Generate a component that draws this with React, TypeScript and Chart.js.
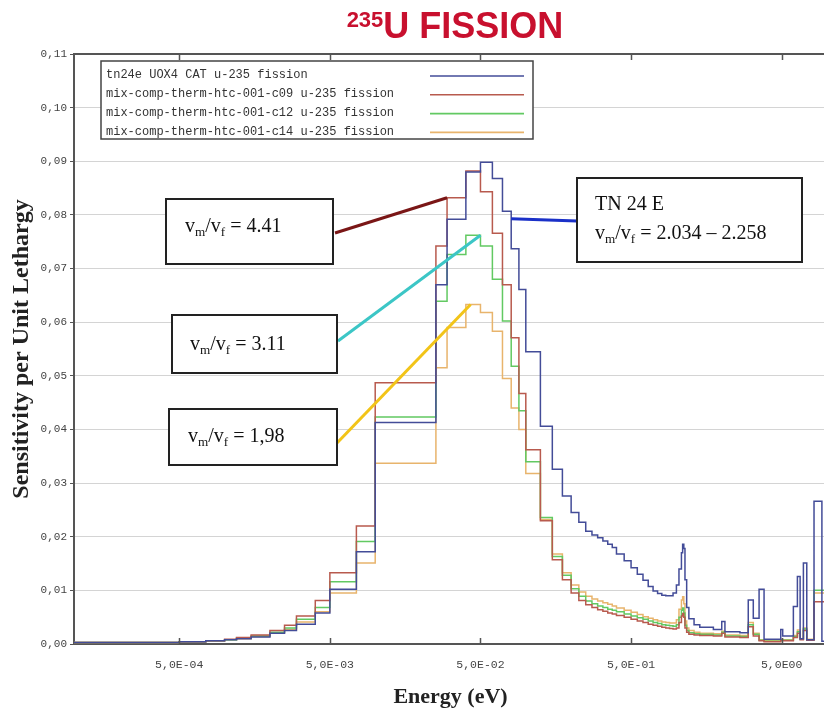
import React, { useEffect, useRef } from "react";
import { Chart, registerables } from "chart.js";
Chart.register(...registerables);

// ---------------- DATA ----------------
// Energy group boundaries (eV); each series value belongs to the group [edge i, edge i+1)
const ENERGY_EDGES = [
  1e-4, 5e-4, 7.5e-4, 1e-3, 1.2e-3, 1.5e-3, 2e-3, 2.5e-3, 3e-3, 4e-3,
  5e-3, 7.5e-3, 1e-2, 2.53e-2, 3e-2, 4e-2, 5e-2, 6e-2, 7e-2, 8e-2,
  9e-2, 0.1, 0.125, 0.15, 0.175, 0.2, 0.225, 0.25, 0.275, 0.3,
  0.325, 0.35, 0.375, 0.4, 0.45, 0.5, 0.55, 0.6, 0.65, 0.7,
  0.75, 0.8, 0.85, 0.9, 0.95, 1.0, 1.04, 1.08, 1.1, 1.12,
  1.14, 1.17, 1.21, 1.31, 1.43, 1.76, 2.0, 2.1, 2.64, 3.0,
  3.24, 3.54, 3.82, 4.93, 5.08, 5.98, 6.36, 6.63, 6.97, 7.34,
  8.2, 9.25, 10,
];

const TN24E_UOX4 = [
  0.0003, 0.0004, 0.0006, 0.0008, 0.001, 0.0013, 0.002, 0.0025, 0.0037, 0.0058,
  0.0102, 0.0172, 0.0413, 0.067, 0.0792, 0.088, 0.0898, 0.0868, 0.0807, 0.0737,
  0.0661, 0.0545, 0.0406, 0.0326, 0.0276, 0.0245, 0.0227, 0.021, 0.0203, 0.0198,
  0.0192, 0.0186, 0.018, 0.0168, 0.0155, 0.0142, 0.013, 0.0119, 0.0107, 0.0099,
  0.0094, 0.0091, 0.009, 0.009, 0.0095, 0.011, 0.014, 0.017, 0.0186, 0.0178,
  0.012, 0.0068, 0.0047, 0.0036, 0.0031, 0.0027, 0.0042, 0.0023, 0.0021, 0.0082,
  0.0048, 0.0102, 0.0009, 0.0027, 0.0015, 0.007, 0.0126, 0.001, 0.0151, 0.0008,
  0.0266, 0.0005,
];

const MIX_C09 = [
  0.0003, 0.0004, 0.0006, 0.0009, 0.0012, 0.0017, 0.0025, 0.0035, 0.0052, 0.0081,
  0.0133, 0.022, 0.0487, 0.0742, 0.0832, 0.0882, 0.0843, 0.0766, 0.067, 0.0571,
  0.0467, 0.0362, 0.023, 0.0157, 0.012, 0.0095, 0.0081, 0.0073, 0.0068, 0.0064,
  0.0061, 0.0058, 0.0056, 0.0053, 0.005, 0.0046, 0.0043, 0.004, 0.0037, 0.0035,
  0.0033, 0.0031, 0.003, 0.0029, 0.0028, 0.003, 0.004, 0.0052, 0.0057, 0.005,
  0.003, 0.0022, 0.0018, 0.0017, 0.0016, 0.0015, 0.002, 0.0013, 0.0012, 0.0032,
  0.0015, 0.0006, 0.0004, 0.0007, 0.0006, 0.0012, 0.002, 0.0008, 0.0025, 0.0007,
  0.0079, 0.0079,
];

const MIX_C12 = [
  0.0003, 0.0004, 0.0006, 0.0008, 0.0011, 0.0015, 0.0022, 0.003, 0.0046, 0.0068,
  0.0116, 0.0191, 0.0423, 0.0639, 0.0726, 0.0762, 0.0742, 0.068, 0.0602, 0.0518,
  0.0435, 0.034, 0.0236, 0.0163, 0.0128, 0.0103, 0.0089, 0.008, 0.0075, 0.0071,
  0.0068, 0.0065, 0.0063, 0.006, 0.0056, 0.0052, 0.0049, 0.0046, 0.0043, 0.004,
  0.0038, 0.0036, 0.0035, 0.0034, 0.0033, 0.0036, 0.005, 0.0063, 0.0067, 0.0058,
  0.0035, 0.0025, 0.0021, 0.0019, 0.0018, 0.0017, 0.0022, 0.0015, 0.0014, 0.0036,
  0.0018, 0.0007, 0.0005, 0.0008, 0.0007, 0.0014, 0.0023, 0.0009, 0.0028, 0.0008,
  0.01, 0.01,
];

const MIX_C14 = [
  0.0003, 0.0004, 0.0006, 0.0008, 0.001, 0.0014, 0.0021, 0.0027, 0.0041, 0.006,
  0.0095, 0.0151, 0.0337, 0.0515, 0.059, 0.0633, 0.0618, 0.0583, 0.0495, 0.044,
  0.04, 0.0318, 0.0232, 0.0168, 0.0133, 0.011, 0.0097, 0.0089, 0.0084, 0.008,
  0.0077, 0.0074, 0.0071, 0.0067, 0.0063, 0.0059, 0.0055, 0.0051, 0.0048, 0.0045,
  0.0043, 0.0041, 0.004, 0.0039, 0.0039, 0.0045, 0.0065, 0.0082, 0.0088, 0.0075,
  0.0043, 0.003, 0.0025, 0.0022, 0.002, 0.0019, 0.0024, 0.0017, 0.0016, 0.004,
  0.002, 0.0008, 0.0006, 0.0009, 0.0008, 0.0016, 0.0026, 0.001, 0.003, 0.0009,
  0.0095, 0.0095,
];

const SERIES_LABELS = [
  "tn24e UOX4 CAT u-235 fission",
  "mix-comp-therm-htc-001-c09 u-235 fission",
  "mix-comp-therm-htc-001-c12 u-235 fission",
  "mix-comp-therm-htc-001-c14 u-235 fission",
];
const SERIES_VALUES = [TN24E_UOX4, MIX_C09, MIX_C12, MIX_C14];

const X_TICKS = [5e-4, 5e-3, 5e-2, 5e-1, 5];
const X_TICK_LABELS = ["5,0E-04", "5,0E-03", "5,0E-02", "5,0E-01", "5,0E00"];
const Y_TICKS = [0, 0.01, 0.02, 0.03, 0.04, 0.05, 0.06, 0.07, 0.08, 0.09, 0.1, 0.11];
const Y_TICK_LABELS = ["0,00", "0,01", "0,02", "0,03", "0,04", "0,05", "0,06", "0,07", "0,08", "0,09", "0,10", "0,11"];

// annotation texts and the data point each callout points to
const NOTE_TEXTS = [
  [[{ t: "v" }, { t: "m", sub: true }, { t: "/v" }, { t: "f", sub: true }, { t: " = 4.41" }]],
  [[{ t: "v" }, { t: "m", sub: true }, { t: "/v" }, { t: "f", sub: true }, { t: " = 3.11" }]],
  [[{ t: "v" }, { t: "m", sub: true }, { t: "/v" }, { t: "f", sub: true }, { t: " = 1,98" }]],
  [[{ t: "TN 24 E" }], [{ t: "v" }, { t: "m", sub: true }, { t: "/v" }, { t: "f", sub: true }, { t: " = 2.034 \u2013 2.258" }]],
];
const NOTE_TARGET_E = [0.03, 0.05, 0.043, 0.08];
const NOTE_TARGET_V = [0.0832, 0.0762, 0.0633, 0.0793];

// ---------------- STYLE / LAYOUT ----------------
const SERIES_COLORS = ["#434c98", "#b85a4e", "#62c962", "#e8b46c"];
const NOTE_LINE_COLORS = ["#7a1616", "#3cc6c6", "#f2c418", "#1a30c8"];
const NOTE_BOXES = [
  { x: 166, y: 199, w: 167, h: 65, tx: 185, ty: [232], ax: 335, ay: 233 },
  { x: 172, y: 315, w: 165, h: 58, tx: 190, ty: [350], ax: 338, ay: 341 },
  { x: 169, y: 409, w: 168, h: 56, tx: 188, ty: [442], ax: 337, ay: 443 },
  { x: 577, y: 178, w: 225, h: 84, tx: 595, ty: [210, 239], ax: 577, ay: 221 },
];
const MONO = '"Liberation Mono", "DejaVu Sans Mono", monospace';
const SERIF = '"Liberation Serif", "DejaVu Serif", serif';
const SANS = '"Liberation Sans", Arial, sans-serif';

function drawRich(ctx: CanvasRenderingContext2D, x: number, y: number, parts: any[], size: number) {
  let cx = x;
  for (const p of parts) {
    const fs = p.sub ? size * 0.66 : size;
    ctx.font = `${fs}px ${SERIF}`;
    ctx.fillText(p.t, cx, y + (p.sub ? size * 0.22 : 0));
    cx += ctx.measureText(p.t).width;
  }
}

const overlayPlugin = {
  id: "overlay",
  afterDatasetsDraw(chart: any) {
    const ctx: CanvasRenderingContext2D = chart.ctx;
    const ca = chart.chartArea;
    const xs = chart.scales.x;
    ctx.save();
    // top border and inward ticks
    ctx.strokeStyle = "#555";
    ctx.lineWidth = 2;
    ctx.beginPath();
    ctx.moveTo(ca.left, ca.top);
    ctx.lineTo(ca.right, ca.top);
    ctx.stroke();
    ctx.lineWidth = 1.5;
    for (const v of X_TICKS) {
      const px = Math.round(xs.getPixelForValue(v)) + 0.5;
      ctx.beginPath();
      ctx.moveTo(px, ca.top);
      ctx.lineTo(px, ca.top + 6);
      ctx.moveTo(px, ca.bottom);
      ctx.lineTo(px, ca.bottom - 6);
      ctx.stroke();
    }

    // legend
    ctx.fillStyle = "#fff";
    ctx.fillRect(101, 61, 432, 78);
    ctx.strokeStyle = "#444";
    ctx.lineWidth = 1.5;
    ctx.strokeRect(101, 61, 432, 78);
    ctx.font = `12px ${MONO}`;
    ctx.textBaseline = "middle";
    ctx.textAlign = "left";
    SERIES_LABELS.forEach((lab, i) => {
      const y = 75 + i * 18.8;
      ctx.fillStyle = "#333";
      ctx.fillText(lab, 106, y);
      ctx.strokeStyle = SERIES_COLORS[i];
      ctx.lineWidth = 1.6;
      ctx.beginPath();
      ctx.moveTo(430, y + 1);
      ctx.lineTo(524, y + 1);
      ctx.stroke();
    });

    // callouts
    ctx.textBaseline = "alphabetic";
    NOTE_BOXES.forEach((b, i) => {
      const tx = xs.getPixelForValue(NOTE_TARGET_E[i]);
      const ty = chart.scales.y.getPixelForValue(NOTE_TARGET_V[i]);
      ctx.strokeStyle = NOTE_LINE_COLORS[i];
      ctx.lineWidth = 3;
      ctx.beginPath();
      ctx.moveTo(b.ax, b.ay);
      ctx.lineTo(tx, ty);
      ctx.stroke();
      ctx.fillStyle = "#fff";
      ctx.fillRect(b.x, b.y, b.w, b.h);
      ctx.strokeStyle = "#222";
      ctx.lineWidth = 2;
      ctx.strokeRect(b.x, b.y, b.w, b.h);
      ctx.fillStyle = "#111";
      NOTE_TEXTS[i].forEach((line, j) => drawRich(ctx, b.tx, b.ty[j], line, 20));
    });

    // title
    ctx.fillStyle = "#c8102e";
    ctx.font = `bold 22px ${SANS}`;
    const supW = ctx.measureText("235").width;
    ctx.font = `bold 36px ${SANS}`;
    const mainW = ctx.measureText("U FISSION").width;
    const startX = 455 - (supW + mainW) / 2;
    ctx.fillText("U FISSION", startX + supW, 38);
    ctx.font = `bold 22px ${SANS}`;
    ctx.fillText("235", startX, 27);

    // axis titles
    ctx.fillStyle = "#222";
    ctx.font = `bold 22px ${SERIF}`;
    ctx.textAlign = "center";
    ctx.textBaseline = "middle";
    ctx.fillText("Energy (eV)", (ca.left + ca.right) / 2, 697);
    ctx.font = `bold 24px ${SERIF}`;
    ctx.translate(22, (ca.top + ca.bottom) / 2);
    ctx.rotate(-Math.PI / 2);
    ctx.fillText("Sensitivity per Unit Lethargy", 0, 0);
    ctx.restore();
  },
};

export default function App() {
  const ref = useRef<HTMLCanvasElement | null>(null);
  useEffect(() => {
    if (!ref.current) return;
    const datasets = SERIES_VALUES.map((vals, k) => ({
      label: SERIES_LABELS[k],
      data: ENERGY_EDGES.map((e, i) => ({ x: e, y: vals[Math.min(i, vals.length - 1)] })),
      borderColor: SERIES_COLORS[k],
      backgroundColor: SERIES_COLORS[k],
      borderWidth: 1.5,
      pointRadius: 0,
      stepped: "before" as const,
      fill: false,
    }));
    const chart = new Chart(ref.current, {
      type: "line",
      data: { datasets },
      plugins: [overlayPlugin],
      options: {
        responsive: false,
        animation: false,
        layout: { padding: { left: 0, top: 54, right: 5, bottom: 0 } },
        plugins: { legend: { display: false }, tooltip: { enabled: false }, title: { display: false } },
        scales: {
          x: {
            type: "logarithmic",
            min: 1e-4,
            max: 10,
            afterBuildTicks: (s: any) => {
              s.ticks = X_TICKS.map((v) => ({ value: v }));
            },
            afterFit: (s: any) => {
              s.height = 66;
            },
            grid: { display: true, drawOnChartArea: false, drawTicks: false },
            border: { display: true, color: "#555", width: 2 },
            ticks: {
              autoSkip: false,
              maxRotation: 0,
              padding: 14,
              color: "#444",
              font: { family: MONO, size: 11.5 },
              callback: (_v: any, i: number) => X_TICK_LABELS[i],
            },
          },
          y: {
            type: "linear",
            min: 0,
            max: 0.11,
            afterBuildTicks: (s: any) => {
              s.ticks = Y_TICKS.map((v) => ({ value: v }));
            },
            afterFit: (s: any) => {
              s.width = 74;
            },
            grid: { color: "#d4d4d4", lineWidth: 1, drawTicks: true, tickLength: 4, tickColor: "#555" },
            border: { display: true, color: "#555", width: 2 },
            ticks: {
              padding: 3,
              color: "#444",
              font: { family: MONO, size: 11 },
              callback: (_v: any, i: number) => Y_TICK_LABELS[i],
            },
          },
        },
      },
    } as any);
    return () => chart.destroy();
  }, []);
  return (
    <div style={{ position: "absolute", left: 0, top: 0, width: 824, height: 710, overflow: "hidden", background: "#fff" }}>
      <canvas ref={ref} width={832} height={710} style={{ display: "block" }} />
    </div>
  );
}
